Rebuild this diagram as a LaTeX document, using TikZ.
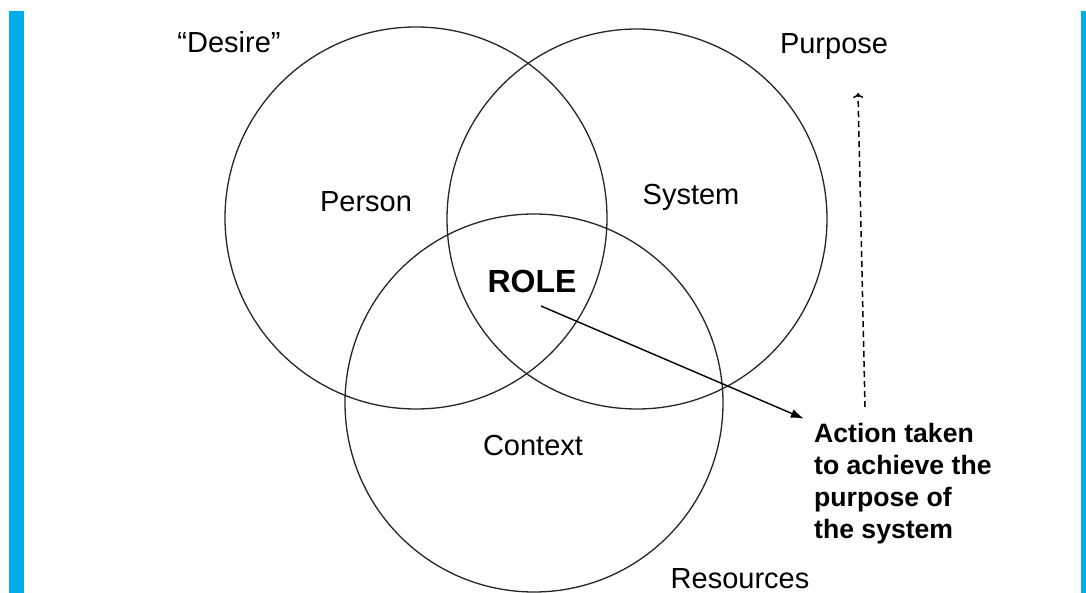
\documentclass[tikz,border=0pt]{standalone}
\usepackage{fontspec}
\setmainfont{Liberation Sans}
\usetikzlibrary{arrows.meta}

\definecolor{barblue}{RGB}{0,172,236}
\tikzset{
  ring/.style={draw=black!85, line width=1.3pt},
  lbl/.style={font=\fontsize{29}{34}\selectfont, anchor=base, inner sep=0pt},
  rolelbl/.style={font=\bfseries\fontsize{32}{38}\selectfont, anchor=base, inner sep=0pt},
  actlbl/.style={font=\bfseries\fontsize{26.6}{32}\selectfont, align=left, anchor=north west, inner sep=0pt},
}

\begin{document}
\begin{tikzpicture}[x=1pt,y=-1pt]
	\fill[white](0,0)rectangle(1086,593);
	\useasboundingbox(0,0)rectangle(1086,593);
	\fill[barblue](9,11)rectangle(24,593);
	\fill[barblue](1081,11)rectangle(1086,593);

	\draw[ring](416,218)circle[radius=191];
	\draw[ring](637,219)circle[radius=190];
	\draw[ring](534,403)circle[radius=189];

	\node[lbl](desire)at(229,53){“Desire”};
	\node[lbl](purpose)at(834,54){Purpose};
	\node[lbl](person)at(366,212){Person};
	\node[lbl](system)at(691,205){System};
	\node[rolelbl](role)at(532,293){ROLE};
	\node[lbl](context)at(533,455){Context};
	\node[lbl](resources)at(740,588){Resources};
	\node[actlbl](action)at(814,423){Action taken\\to achieve the\\purpose of\\the system};

	\coordinate(roletail)at(541,306);
	\coordinate(dashbase)at(865,407);
	\coordinate(dashtip)at(858,93);
	\draw[line width=1.4pt,-{Latex[length=13pt,width=9pt]},shorten >=11pt](roletail)--(action.north west);
	\draw[line width=1.5pt,dash pattern=on 6pt off 4pt,-{To[length=5pt,width=10pt]}](dashbase)--(dashtip);
\end{tikzpicture}
\end{document}
